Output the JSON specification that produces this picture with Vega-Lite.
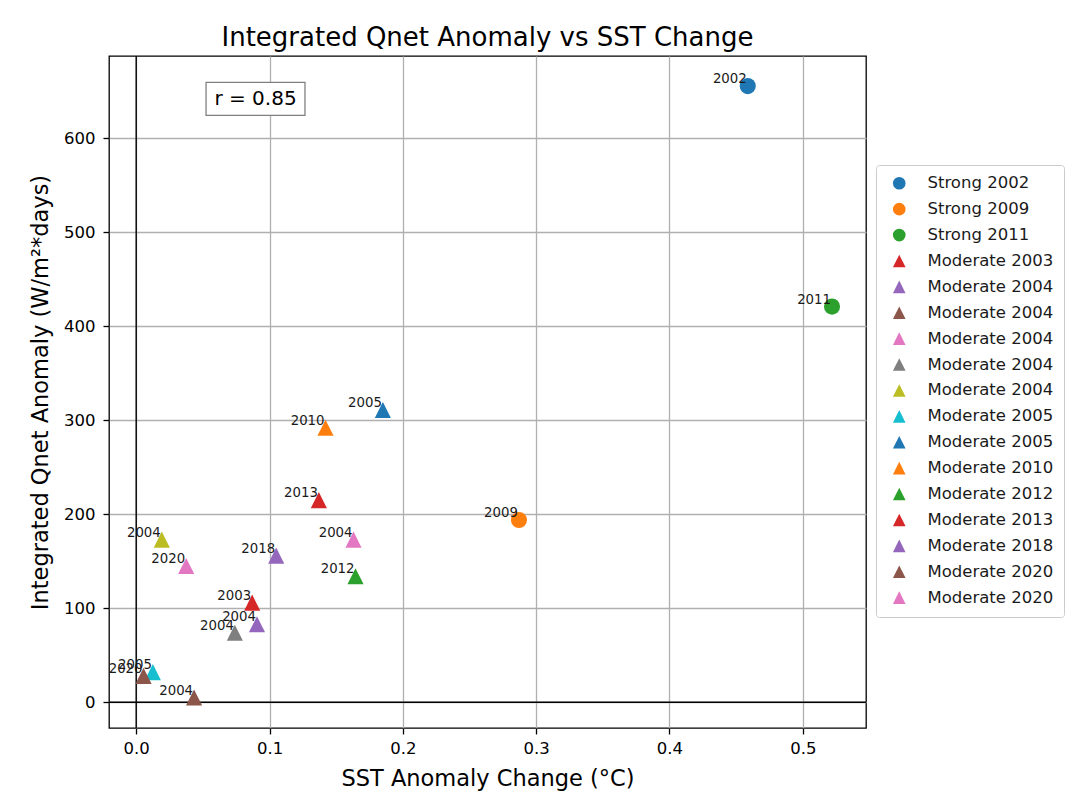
{
  "$schema": "https://vega.github.io/schema/vega-lite/v6.json",
  "width": 757,
  "height": 672,
  "autosize": {"type": "none"},
  "padding": {"left": 109, "top": 56, "right": 213, "bottom": 78},
  "background": "white",
  "title": {
    "text": "Integrated Qnet Anomaly vs SST Change",
    "font": "DejaVu Sans",
    "fontSize": 26,
    "fontWeight": "normal",
    "color": "#000000",
    "anchor": "middle",
    "frame": "group",
    "baseline": "alphabetic",
    "offset": 8,
    "dy": 25
  },
  "config": {
    "view": {"stroke": "#000000", "strokeWidth": 1.3},
    "font": "DejaVu Sans",
    "axis": {
      "labelFont": "DejaVu Sans",
      "labelFontSize": 16.5,
      "labelColor": "#000000",
      "titleFont": "DejaVu Sans",
      "titleFontSize": 22.5,
      "titleFontWeight": "normal",
      "titleColor": "#000000",
      "tickColor": "#000000",
      "tickSize": 6,
      "tickWidth": 1.3,
      "domain": false,
      "grid": true,
      "gridColor": "#b0b0b0",
      "gridWidth": 1.3
    },
    "axisX": {"labelPadding": 6, "titlePadding": 29, "titleBaseline": "alphabetic"},
    "axisY": {"labelPadding": 8, "titlePadding": 16, "titleBaseline": "alphabetic"}
  },
  "datasets": {
    "events": [
      {"series": "Strong 2002", "label": "2002", "x": 0.4587, "y": 655.6},
      {"series": "Strong 2009", "label": "2009", "x": 0.2871, "y": 193.9},
      {"series": "Strong 2011", "label": "2011", "x": 0.5219, "y": 421},
      {"series": "Moderate 2003", "label": "2003", "x": 0.087, "y": 106},
      {"series": "Moderate 2004#1", "label": "2004", "x": 0.0906, "y": 83},
      {"series": "Moderate 2004#2", "label": "2004", "x": 0.0434, "y": 5},
      {"series": "Moderate 2004#3", "label": "2004", "x": 0.163, "y": 173},
      {"series": "Moderate 2004#4", "label": "2004", "x": 0.074, "y": 74},
      {"series": "Moderate 2004#5", "label": "2004", "x": 0.0192, "y": 173},
      {"series": "Moderate 2005#1", "label": "2005", "x": 0.0125, "y": 32},
      {"series": "Moderate 2005#2", "label": "2005", "x": 0.185, "y": 311},
      {"series": "Moderate 2010", "label": "2010", "x": 0.142, "y": 292},
      {"series": "Moderate 2012", "label": "2012", "x": 0.1645, "y": 134},
      {"series": "Moderate 2013", "label": "2013", "x": 0.137, "y": 215},
      {"series": "Moderate 2018", "label": "2018", "x": 0.105, "y": 156},
      {"series": "Moderate 2020#1", "label": "2020", "x": 0.0055, "y": 28},
      {"series": "Moderate 2020#2", "label": "2020", "x": 0.0375, "y": 145}
    ],
    "vzero": [{"x": 0}],
    "hzero": [{"y": 0}],
    "rbox": [{"x": 0.0524, "x2": 0.1266, "y": 659.6, "y2": 624.5}],
    "rtext": [{"x": 0.0895, "y": 641.5, "t": "r = 0.85"}]
  },
  "layer": [
    {
      "data": {"name": "vzero"},
      "mark": {"type": "rule", "color": "#000000", "strokeWidth": 1.4},
      "encoding": {
        "x": {
          "field": "x", "type": "quantitative",
          "scale": {"domain": [-0.0204, 0.5474], "nice": false, "zero": false},
          "axis": {"title": "SST Anomaly Change (°C)", "values": [0, 0.1, 0.2, 0.3, 0.4, 0.5], "format": ".1f"}
        }
      }
    },
    {
      "data": {"name": "hzero"},
      "mark": {"type": "rule", "color": "#000000", "strokeWidth": 1.4},
      "encoding": {
        "y": {
          "field": "y", "type": "quantitative",
          "scale": {"domain": [-27.4, 687.6], "nice": false, "zero": false},
          "axis": {"title": "Integrated Qnet Anomaly (W/m²*days)", "values": [0, 100, 200, 300, 400, 500, 600], "format": "d"}
        }
      }
    },
    {
      "data": {"name": "events"},
      "mark": {"type": "point", "filled": true, "opacity": 1, "size": 260},
      "encoding": {
        "x": {
          "field": "x", "type": "quantitative",
          "scale": {"domain": [-0.0204, 0.5474], "nice": false, "zero": false},
          "axis": {"title": "SST Anomaly Change (°C)", "values": [0, 0.1, 0.2, 0.3, 0.4, 0.5], "format": ".1f"}
        },
        "y": {
          "field": "y", "type": "quantitative",
          "scale": {"domain": [-27.4, 687.6], "nice": false, "zero": false},
          "axis": {"title": "Integrated Qnet Anomaly (W/m²*days)", "values": [0, 100, 200, 300, 400, 500, 600], "format": "d"}
        },
        "color": {
          "field": "series", "type": "nominal",
          "scale": {
            "domain": ["Strong 2002", "Strong 2009", "Strong 2011", "Moderate 2003", "Moderate 2004#1", "Moderate 2004#2", "Moderate 2004#3", "Moderate 2004#4", "Moderate 2004#5", "Moderate 2005#1", "Moderate 2005#2", "Moderate 2010", "Moderate 2012", "Moderate 2013", "Moderate 2018", "Moderate 2020#1", "Moderate 2020#2"],
            "range": ["#1f77b4", "#ff7f0e", "#2ca02c", "#d62728", "#9467bd", "#8c564b", "#e377c2", "#7f7f7f", "#bcbd22", "#17becf", "#1f77b4", "#ff7f0e", "#2ca02c", "#d62728", "#9467bd", "#8c564b", "#e377c2"]
          },
          "legend": {
            "title": null, "orient": "none", "legendX": 767, "legendY": 109,
            "labelExpr": "split(datum.label, '#')[0]",
            "labelFont": "DejaVu Sans", "labelFontSize": 16.5, "labelColor": "#1a1a1a", "labelLimit": 300,
            "symbolSize": 160, "symbolStrokeWidth": 0, "symbolOpacity": 1,
            "padding": 10, "symbolOffset": 5, "rowPadding": 8.9, "labelOffset": 20,
            "strokeColor": "#cccccc", "fillColor": "#ffffff", "cornerRadius": 3
          }
        },
        "shape": {
          "field": "series", "type": "nominal",
          "scale": {
            "domain": ["Strong 2002", "Strong 2009", "Strong 2011", "Moderate 2003", "Moderate 2004#1", "Moderate 2004#2", "Moderate 2004#3", "Moderate 2004#4", "Moderate 2004#5", "Moderate 2005#1", "Moderate 2005#2", "Moderate 2010", "Moderate 2012", "Moderate 2013", "Moderate 2018", "Moderate 2020#1", "Moderate 2020#2"],
            "range": ["circle", "circle", "circle", "M0,-1L1,1L-1,1Z", "M0,-1L1,1L-1,1Z", "M0,-1L1,1L-1,1Z", "M0,-1L1,1L-1,1Z", "M0,-1L1,1L-1,1Z", "M0,-1L1,1L-1,1Z", "M0,-1L1,1L-1,1Z", "M0,-1L1,1L-1,1Z", "M0,-1L1,1L-1,1Z", "M0,-1L1,1L-1,1Z", "M0,-1L1,1L-1,1Z", "M0,-1L1,1L-1,1Z", "M0,-1L1,1L-1,1Z", "M0,-1L1,1L-1,1Z"]
          },
          "legend": {
            "title": null, "orient": "none", "legendX": 767, "legendY": 109,
            "labelExpr": "split(datum.label, '#')[0]",
            "labelFont": "DejaVu Sans", "labelFontSize": 16.5, "labelColor": "#1a1a1a", "labelLimit": 300,
            "symbolSize": 160, "symbolStrokeWidth": 0, "symbolOpacity": 1,
            "padding": 10, "symbolOffset": 5, "rowPadding": 8.9, "labelOffset": 20,
            "strokeColor": "#cccccc", "fillColor": "#ffffff", "cornerRadius": 3
          }
        }
      }
    },
    {
      "data": {"name": "events"},
      "mark": {"type": "text", "align": "right", "baseline": "alphabetic", "dx": -1, "dy": -3, "fontSize": 13.3, "font": "DejaVu Sans", "color": "#1a1a1a"},
      "encoding": {
        "x": {"field": "x", "type": "quantitative", "scale": {"domain": [-0.0204, 0.5474], "nice": false, "zero": false}, "axis": {"title": "SST Anomaly Change (°C)", "values": [0, 0.1, 0.2, 0.3, 0.4, 0.5], "format": ".1f"}},
        "y": {"field": "y", "type": "quantitative", "scale": {"domain": [-27.4, 687.6], "nice": false, "zero": false}, "axis": {"title": "Integrated Qnet Anomaly (W/m²*days)", "values": [0, 100, 200, 300, 400, 500, 600], "format": "d"}},
        "text": {"field": "label", "type": "nominal"}
      }
    },
    {
      "data": {"name": "rbox"},
      "mark": {"type": "rect", "fill": "#ffffff", "stroke": "#808080", "strokeWidth": 1.3},
      "encoding": {
        "x": {"field": "x", "type": "quantitative", "scale": {"domain": [-0.0204, 0.5474], "nice": false, "zero": false}, "axis": {"title": "SST Anomaly Change (°C)", "values": [0, 0.1, 0.2, 0.3, 0.4, 0.5], "format": ".1f"}},
        "x2": {"field": "x2"},
        "y": {"field": "y", "type": "quantitative", "scale": {"domain": [-27.4, 687.6], "nice": false, "zero": false}, "axis": {"title": "Integrated Qnet Anomaly (W/m²*days)", "values": [0, 100, 200, 300, 400, 500, 600], "format": "d"}},
        "y2": {"field": "y2"}
      }
    },
    {
      "data": {"name": "rtext"},
      "mark": {"type": "text", "align": "center", "baseline": "middle", "fontSize": 20, "font": "DejaVu Sans", "color": "#000000"},
      "encoding": {
        "x": {"field": "x", "type": "quantitative", "scale": {"domain": [-0.0204, 0.5474], "nice": false, "zero": false}, "axis": {"title": "SST Anomaly Change (°C)", "values": [0, 0.1, 0.2, 0.3, 0.4, 0.5], "format": ".1f"}},
        "y": {"field": "y", "type": "quantitative", "scale": {"domain": [-27.4, 687.6], "nice": false, "zero": false}, "axis": {"title": "Integrated Qnet Anomaly (W/m²*days)", "values": [0, 100, 200, 300, 400, 500, 600], "format": "d"}},
        "text": {"field": "t", "type": "nominal"}
      }
    }
  ]
}
